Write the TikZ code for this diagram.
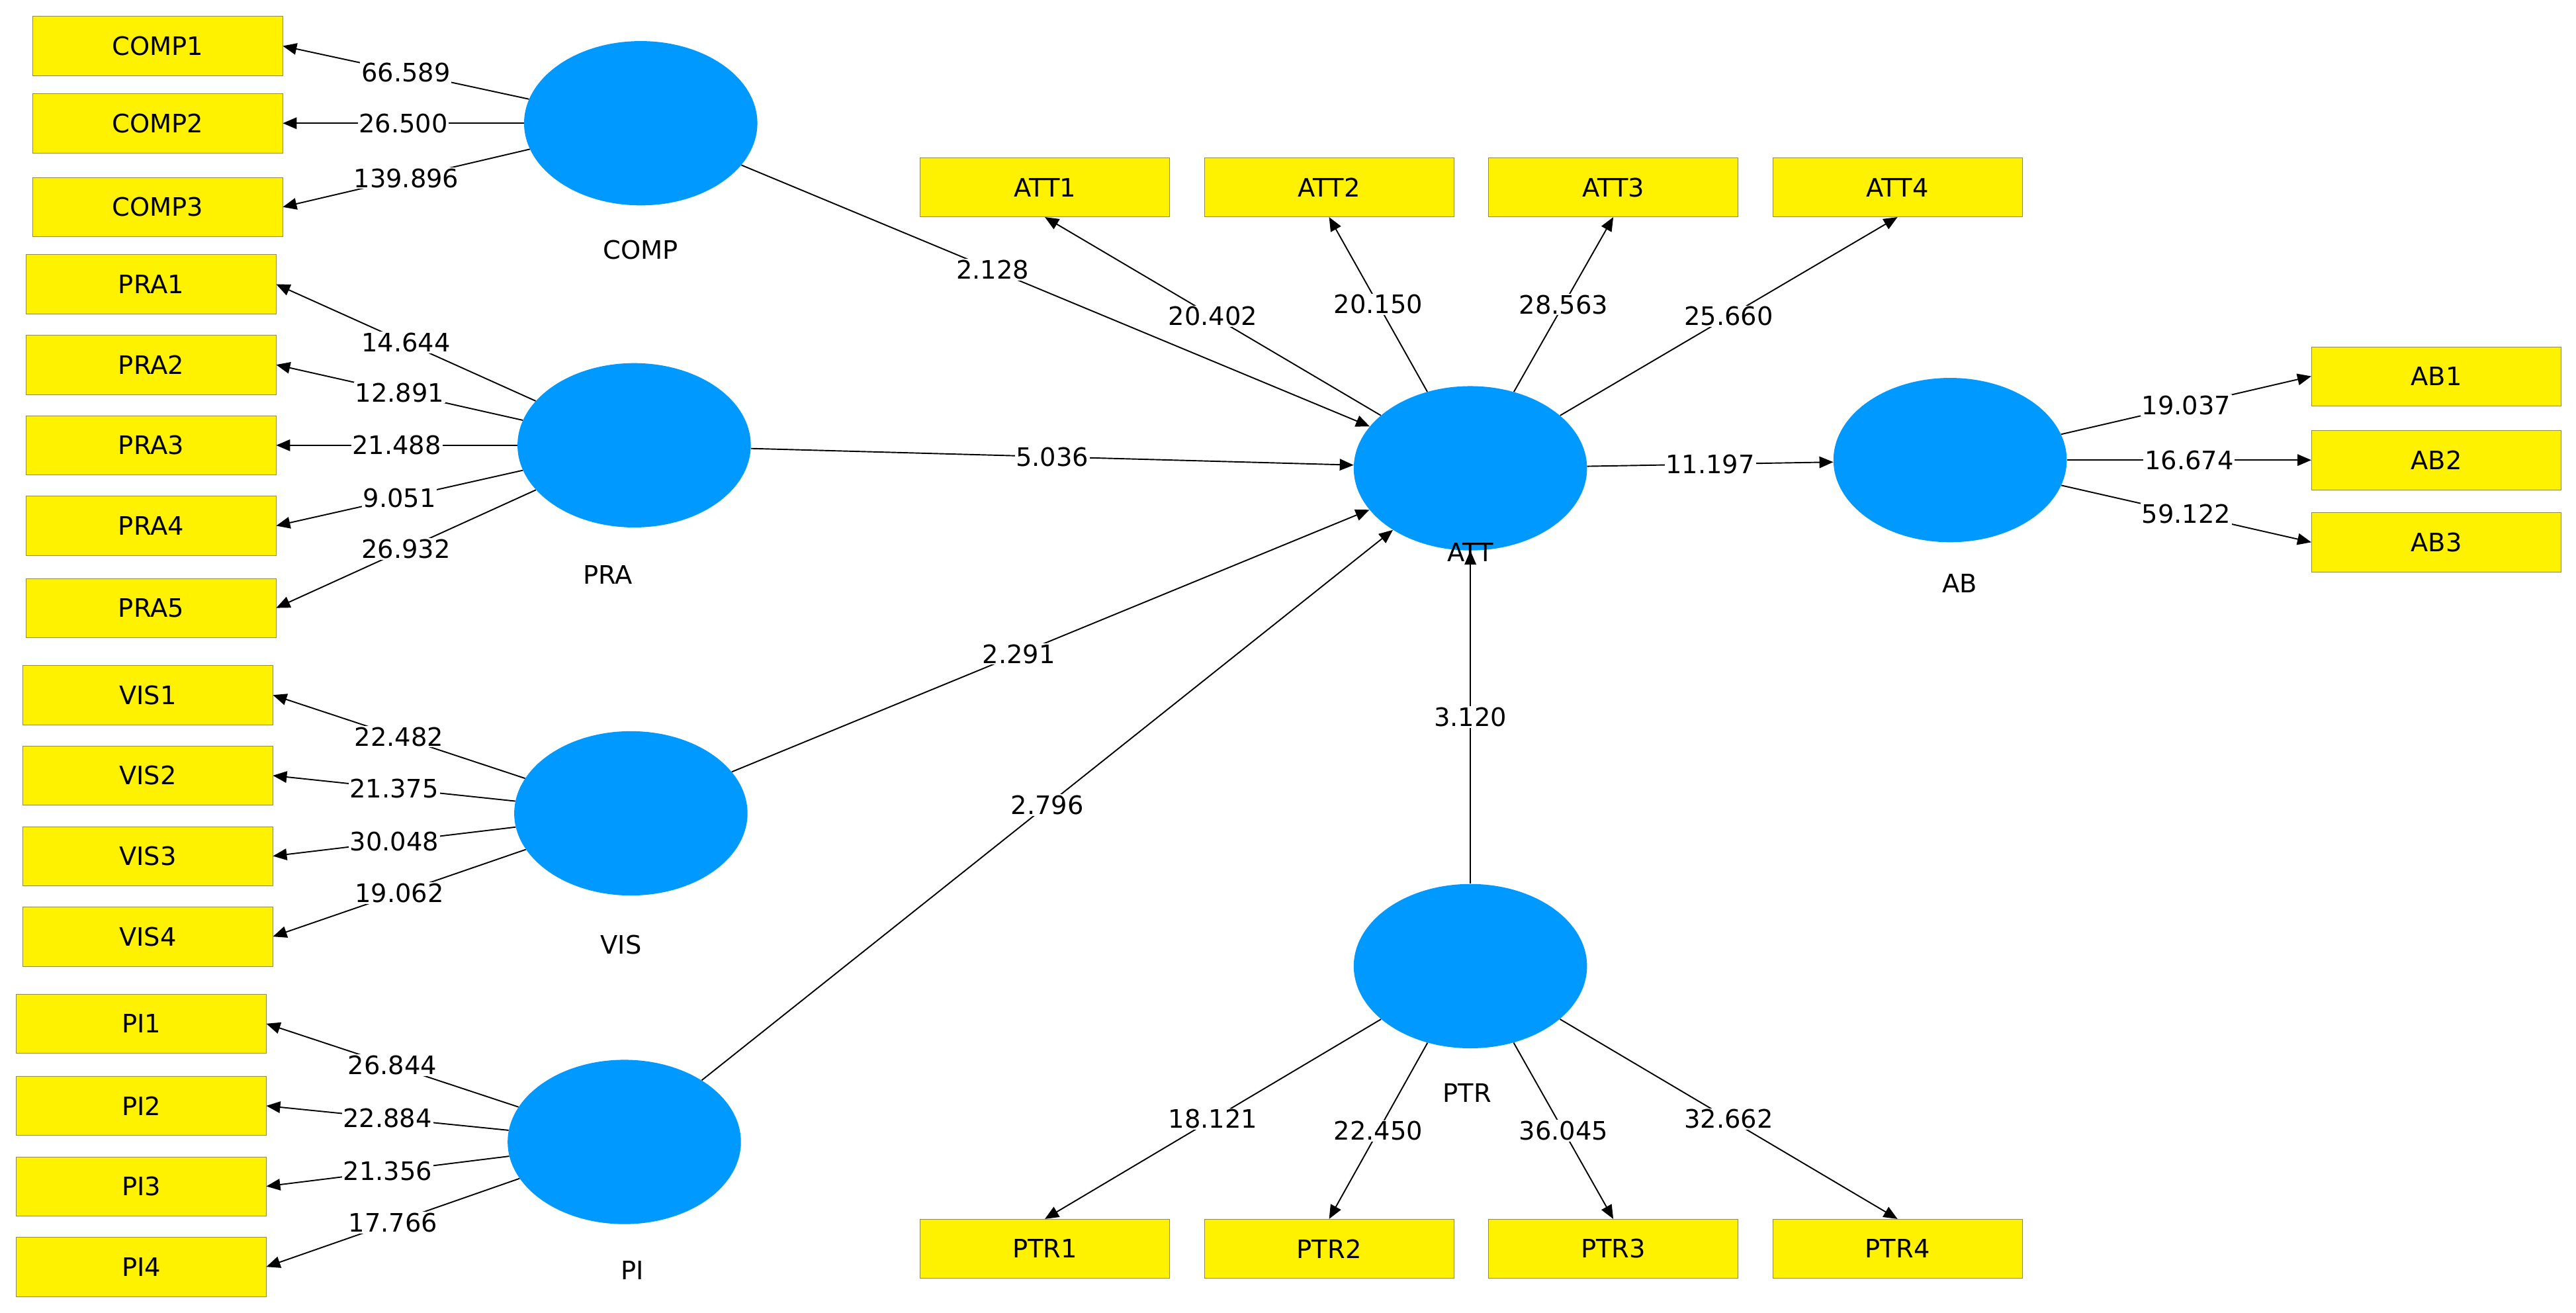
\documentclass[tikz,border=0pt]{standalone}
\usepackage{fontspec}
\setmainfont{DejaVu Sans}
\usetikzlibrary{arrows.meta,shapes.geometric}
\definecolor{lvblue}{RGB}{0,153,255}
\begin{document}
\begin{tikzpicture}[x=0.05cm,y=-0.05cm,
  font=\fontsize{22}{26}\selectfont,
  ind/.style={draw=black!50!yellow,fill=yellow,minimum width=7.6cm,minimum height=1.8cm,inner sep=0pt},
  lv/.style={ellipse,fill=lvblue,minimum width=7.1cm,minimum height=5cm},
  ar/.style={-{Triangle[length=12pt,width=10pt]},line width=1.1pt},
  lb/.style={midway,fill=white,inner sep=1pt}]
\useasboundingbox (0,0) rectangle (1568,799);
% latent variables
\foreach \n/\x/\y in {COMP/390/75,PRA/386/271,VIS/384/495,PI/380/695,ATT/895/285,AB/1187/280,PTR/895/588}
  \node[lv] (\n) at (\x,\y) {};
\node (tCOMP) at (390,152) {COMP};
\node (tPRA) at (370,350) {PRA};
\node (tVIS) at (378,575) {VIS};
\node (tPI) at (385,773) {PI};
\node (tATT) at (895,336) {ATT};
\node (tAB) at (1193,355) {AB};
\node (tPTR) at (893,665) {PTR};
% indicators
\foreach \n/\x/\y in {COMP1/96/28,COMP2/96/75,COMP3/96/126,
  PRA1/92/173,PRA2/92/222,PRA3/92/271,PRA4/92/320,PRA5/92/370,
  VIS1/90/423,VIS2/90/472,VIS3/90/521,VIS4/90/570,
  PI1/86/623,PI2/86/673,PI3/86/722,PI4/86/771,
  ATT1/636/114,ATT2/809/114,ATT3/982/114,ATT4/1155/114,
  AB1/1483/229,AB2/1483/280,AB3/1483/330,
  PTR1/636/760,PTR2/809/760,PTR3/982/760,PTR4/1155/760}
  \node[ind] (\n) at (\x,\y) {\n};
% outer loadings
\foreach \l/\t/\v in {COMP/COMP1/66.589,COMP/COMP2/26.500,COMP/COMP3/139.896,
  PRA/PRA1/14.644,PRA/PRA2/12.891,PRA/PRA3/21.488,PRA/PRA4/9.051,PRA/PRA5/26.932,
  VIS/VIS1/22.482,VIS/VIS2/21.375,VIS/VIS3/30.048,VIS/VIS4/19.062,
  PI/PI1/26.844,PI/PI2/22.884,PI/PI3/21.356,PI/PI4/17.766}
  \draw[ar] (\l) -- (\t.east) node[lb] {\v};
\foreach \t/\v in {ATT1/20.402,ATT2/20.150,ATT3/28.563,ATT4/25.660}
  \draw[ar] (ATT) -- (\t.south) node[lb] {\v};
\foreach \t/\v in {PTR1/18.121,PTR2/22.450,PTR3/36.045,PTR4/32.662}
  \draw[ar] (PTR) -- (\t.north) node[lb] {\v};
\foreach \t/\v in {AB1/19.037,AB2/16.674,AB3/59.122}
  \draw[ar] (AB) -- (\t.west) node[lb] {\v};
% structural paths
\draw[ar] (COMP) -- (ATT) node[lb,pos=0.4] {2.128};
\draw[ar] (PRA) -- (ATT) node[lb] {5.036};
\draw[ar] (VIS) -- (ATT) node[lb,pos=0.45] {2.291};
\draw[ar] (PI) -- (ATT) node[lb] {2.796};
\draw[ar] (PTR) -- (ATT) node[lb] {3.120};
\draw[ar] (ATT) -- (AB) node[lb] {11.197};
\end{tikzpicture}
\end{document}
